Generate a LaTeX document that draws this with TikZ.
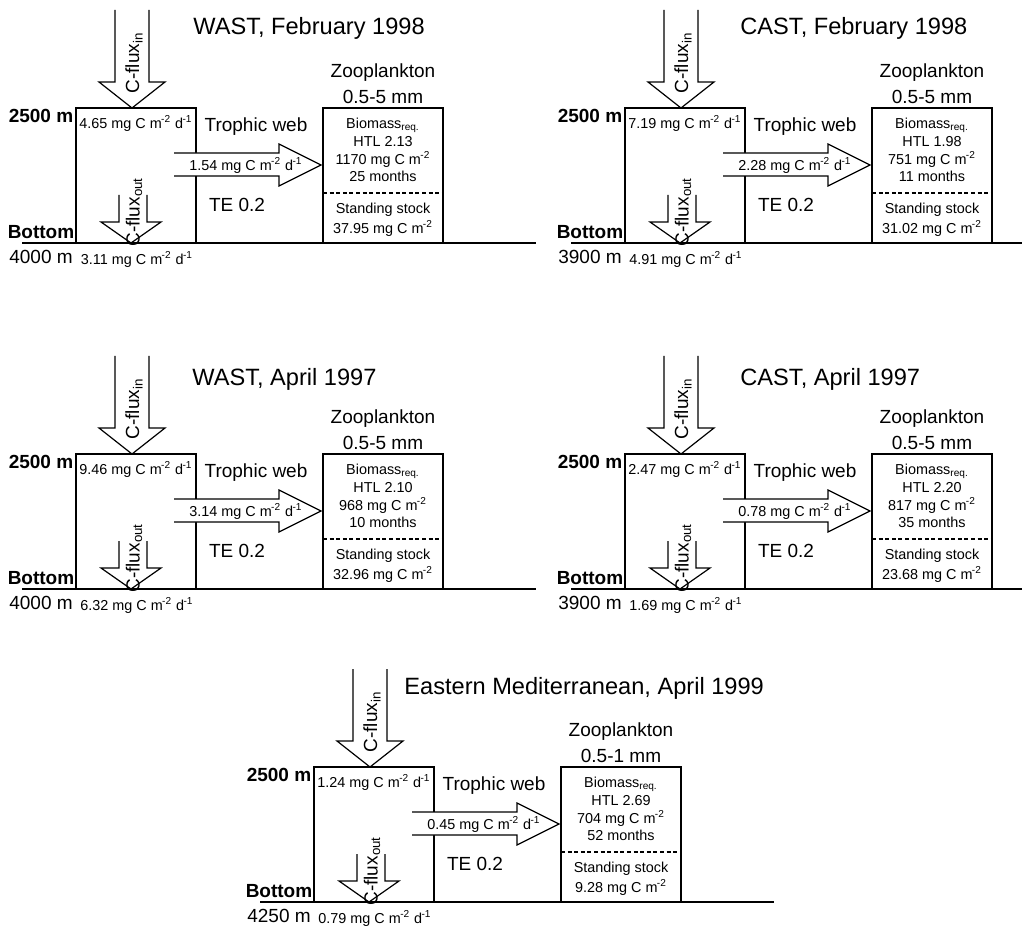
\documentclass[tikz,border=0pt]{standalone}
\usepackage{fontspec}
\setmainfont{Liberation Sans}
\usepackage{tikz}
\usetikzlibrary{calc}

\newcommand{\mgd}{mg C m\kern-0.3pt\textsuperscript{-2} d\kern-0.3pt\textsuperscript{-1}}
\newcommand{\mgm}{mg C m\kern-0.3pt\textsuperscript{-2}}

\tikzset{
  titletext/.style={anchor=west, inner sep=0pt, font=\fontsize{11.8}{13}\selectfont},
  lbl/.style={inner sep=0pt, font=\fontsize{9.5}{11}\selectfont},
  depthlbl/.style={inner sep=0pt, font=\fontsize{9.5}{11}\selectfont\bfseries},
  smalltxt/.style={inner sep=0pt, font=\fontsize{7.2}{8.5}\selectfont},
  compbox/.style={draw=black, line width=0.6pt},
  fluxarrow/.style={draw=black, line width=0.6pt},
  seafloor/.style={draw=black, line width=0.9pt}
}

\begin{document}
\begin{tikzpicture}[x=0.5pt, y=-0.5pt]
  \useasboundingbox (0,0) rectangle (1022,930);

  % one panel per station and cruise
  \foreach \ox/\oy/\tx/\ty/\ttl/\fin/\fweb/\fout/\htl/\bmass/\mo/\stk/\dep/\sz [count=\i] in {
      0/0/193/28/{WAST, February 1998}/4.65/1.54/3.11/2.13/1170/25/37.95/4000/0.5-5,
      549/0/191/28/{CAST, February 1998}/7.19/2.28/4.91/1.98/751/11/31.02/3900/0.5-5,
      0/346/192/33/{WAST, April 1997}/9.46/3.14/6.32/2.10/968/10/32.96/4000/0.5-5,
      549/346/191/33/{CAST, April 1997}/2.47/0.78/1.69/2.20/817/35/23.68/3900/0.5-5,
      238/659/166/29/{Eastern Mediterranean, April 1999}/1.24/0.45/0.79/2.69/704/52/9.28/4250/0.5-1}
  {
    \pgfmathsetmacro{\lend}{min(536,1022-\ox)}
    \begin{scope}[shift={(\ox,\oy)}]
      % title
      \node[titletext] (ttl\i) at (\tx,\ty) {\ttl};

      % water column and zooplankton boxes
      \draw[compbox] (76,108) rectangle (196,243);
      \draw[compbox] (323,108) rectangle (443,243);
      \draw[compbox, dash pattern=on 2pt off 1.3pt] (323,193) -- (443,193);

      % sea floor
      \draw[seafloor] (22,243) -- (\lend,243);

      % C-flux in
      \draw[fluxarrow] (115,10) -- (115,82) -- (99,82) -- (132,108) -- (165,82) -- (149,82) -- (149,10);
      \node[lbl, rotate=90] (cin\i) at (134,63) {C-flux\textsubscript{in}};

      % C-flux out
      \draw[fluxarrow] (119,195) -- (119,222) -- (101,222) -- (131,243) -- (161,222) -- (147,222) -- (147,195);
      \node[lbl, rotate=90] (cout\i) at (134,212) {C-flux\textsubscript{out}};

      % flux to the trophic web
      \fill[white] (174,153) -- (279,153) -- (279,144) -- (321,165) -- (279,186) -- (279,176) -- (174,176) -- cycle;
      \draw[fluxarrow] (174,153) -- (279,153) -- (279,144) -- (321,165) -- (279,186) -- (279,176) -- (174,176);
      \node[smalltxt] (fweb\i) at (246,165) {\fweb\ \mgd};
      \node[lbl] (web\i) at (256,127) {Trophic web};
      \node[lbl] (te\i) at (237,205) {TE 0.2};

      % depths
      \node[depthlbl] (top\i) at (41,116) {2500 m};
      \node[depthlbl] (bot\i) at (41,232) {Bottom};
      \node[lbl] (dep\i) at (41,257) {\dep\ m};
      \node[smalltxt] (fin\i) at (136,123) {\fin\ \mgd};
      \node[smalltxt] (fout\i) at (137,259) {\fout\ \mgd};

      % zooplankton
      \node[lbl] (zoo\i) at (383,73) {Zooplankton};
      \node[lbl] (sz\i) at (383,97) {\sz\ mm};
      \node[smalltxt] (req\i) at (383,125) {Biomass\textsubscript{req.}};
      \node[smalltxt] (htl\i) at (383,142) {HTL \htl};
      \node[smalltxt] (bm\i) at (383,159) {\bmass\ \mgm};
      \node[smalltxt] (mo\i) at (383,176) {\mo\ months};
      \node[smalltxt] (sst\i) at (383,210) {Standing stock};
      \node[smalltxt] (stk\i) at (383,228) {\stk\ \mgm};
    \end{scope}
  }
\end{tikzpicture}
\end{document}
